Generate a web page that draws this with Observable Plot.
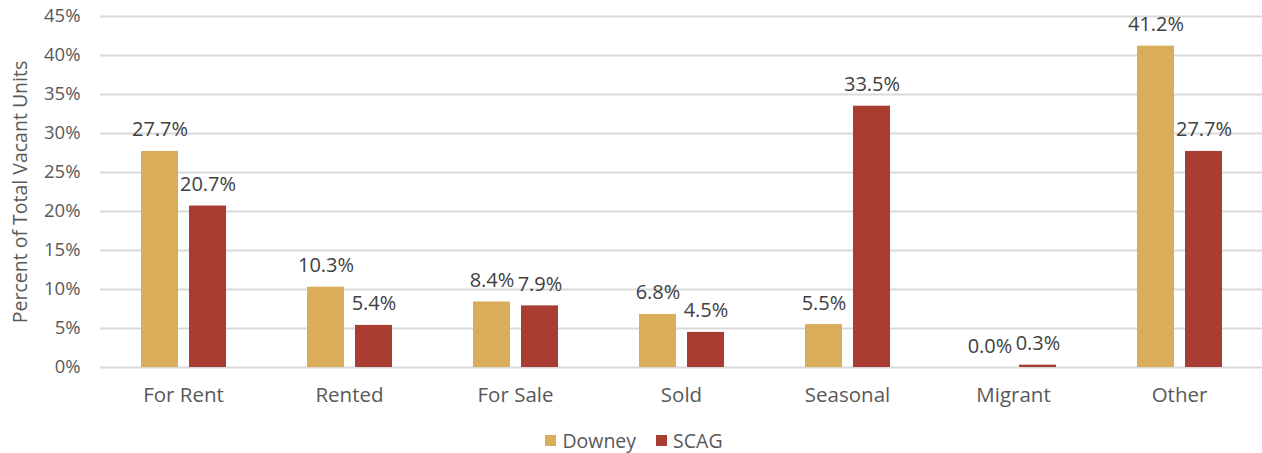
<!DOCTYPE html>
<html>
<head>
<meta charset="utf-8">
<script src="https://cdn.jsdelivr.net/npm/d3@7"></script>
<script src="https://cdn.jsdelivr.net/npm/@observablehq/plot@0.6"></script>
<style>
  body { margin: 0; background: #fff; font-family: "Open Sans", sans-serif; }
  #legend { display: flex; justify-content: center; align-items: center; gap: 20px; height: 60px; font-size: 19.5px; color: #595959; padding-left: 6px; }
  .sw { display: inline-flex; align-items: center; gap: 6px; }
  .sq { width: 11px; height: 11px; display: inline-block; }
</style>
</head>
<body>
<div id="chart"></div>
<div id="legend"></div>
<script>
const categories = ["For Rent", "Rented", "For Sale", "Sold", "Seasonal", "Migrant", "Other"];
const seriesNames = ["Downey", "SCAG"];
const downey = [27.7, 10.3, 8.4, 6.8, 5.5, 0.0, 41.2];
const scag = [20.7, 5.4, 7.9, 4.5, 33.5, 0.3, 27.7];
const yTicks = [0, 5, 10, 15, 20, 25, 30, 35, 40, 45];
const colors = ["#DAAD5A", "#AA3D32"];

const data = [];
categories.forEach((c, i) => {
  data.push({category: c, series: "Downey", value: downey[i]});
  data.push({category: c, series: "SCAG", value: scag[i]});
});

const chart = Plot.plot({
  width: 1262,
  height: 410,
  marginLeft: 100,
  marginRight: 0,
  marginTop: 16,
  marginBottom: 43,
  style: {fontFamily: "Open Sans, sans-serif", fontSize: "17px", color: "#595959"},
  fx: {domain: categories, padding: 0, label: null},
  x: {domain: seriesNames, paddingInner: 0.23, paddingOuter: 0.844, axis: null},
  y: {domain: [0, 45], ticks: yTicks, label: null, axis: null},
  color: {domain: seriesNames, range: colors},
  marks: [
    Plot.ruleY(yTicks, {stroke: "#d9d9d9", strokeWidth: 2}),
    Plot.text(yTicks, {y: d => d, text: d => d + "%", frameAnchor: "left", textAnchor: "end", dx: -20, fontSize: 18.5, fill: "#595959", facetAnchor: "left"}),
    Plot.axisY({ticks: [], tickSize: 0, label: "Percent of Total Vacant Units", labelAnchor: "center", labelArrow: "none", labelOffset: 87, fontSize: 19.5, fill: "#595959", anchor: "left"}),
    Plot.axisFx({tickSize: 0, tickPadding: 20, fontSize: 20.5, fill: "#595959", label: null, anchor: "bottom"}),
    Plot.barY(data, {fx: "category", x: "series", y: "value", fill: "series"}),
    Plot.text(data, {fx: "category", x: "series", y: "value", text: d => d.value.toFixed(1) + "%", lineAnchor: "bottom", dy: -15, fontSize: 20, fill: "#404040"})
  ]
});
document.getElementById("chart").appendChild(chart);

const legend = document.getElementById("legend");
seriesNames.forEach((s, i) => {
  const span = document.createElement("span");
  span.className = "sw";
  const sq = document.createElement("span");
  sq.className = "sq";
  sq.style.background = colors[i];
  span.appendChild(sq);
  span.appendChild(document.createTextNode(s));
  legend.appendChild(span);
});
</script>
</body>
</html>
